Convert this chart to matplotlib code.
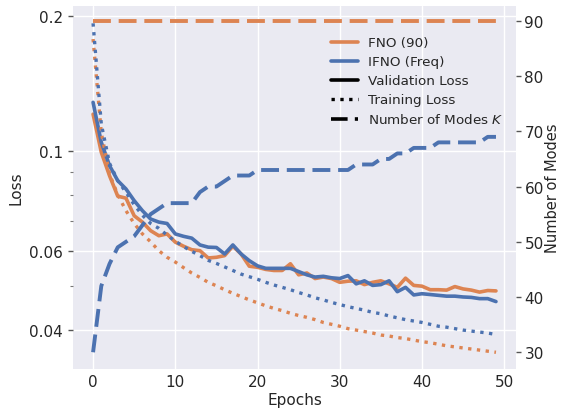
import matplotlib
matplotlib.use("Agg")
import matplotlib.pyplot as plt
from matplotlib.lines import Line2D
from matplotlib.ticker import NullFormatter, FixedLocator, FixedFormatter

epochs = list(range(50))

fno_val = [0.121, 0.0995, 0.0882, 0.0794, 0.0786, 0.0718, 0.0695, 0.0665, 0.0648, 0.0654,
           0.0627, 0.0614, 0.0603, 0.0600, 0.0578, 0.0580, 0.0585, 0.0614, 0.0590, 0.0554,
           0.0551, 0.0545, 0.0542, 0.0542, 0.0561, 0.0530, 0.0535, 0.0520, 0.0524, 0.0520,
           0.0510, 0.0513, 0.0514, 0.0504, 0.0510, 0.0514, 0.0506, 0.0497, 0.0521, 0.0502,
           0.0500, 0.0491, 0.0491, 0.0490, 0.0499, 0.0493, 0.0490, 0.0485, 0.0489, 0.0488]

ifno_val = [0.1286, 0.1047, 0.0929, 0.0860, 0.0824, 0.0776, 0.0737, 0.0706, 0.0695, 0.0690,
            0.0654, 0.0646, 0.0640, 0.0618, 0.0611, 0.0610, 0.0590, 0.0618, 0.0590, 0.0570,
            0.0555, 0.0548, 0.0548, 0.0548, 0.0548, 0.0539, 0.0530, 0.0524, 0.0526, 0.0522,
            0.0520, 0.0528, 0.0506, 0.0514, 0.0502, 0.0504, 0.0514, 0.0486, 0.0497, 0.0478,
            0.0481, 0.0479, 0.0477, 0.0475, 0.0475, 0.0473, 0.0472, 0.0469, 0.0469, 0.0462]

fno_train = [0.178, 0.110, 0.089, 0.080, 0.0737, 0.069, 0.0654, 0.0628, 0.0600, 0.0580,
             0.0566, 0.0550, 0.0535, 0.0523, 0.0510, 0.0501, 0.0491, 0.0482, 0.0474, 0.0466,
             0.0459, 0.0452, 0.0446, 0.0441, 0.0435, 0.0430, 0.0426, 0.0421, 0.0415, 0.0411,
             0.0407, 0.0402, 0.0399, 0.0396, 0.0393, 0.0389, 0.0387, 0.0384, 0.0382, 0.0379,
             0.0376, 0.0374, 0.0371, 0.0368, 0.0366, 0.0364, 0.0362, 0.0360, 0.0358, 0.0356]

ifno_train = [0.193, 0.115, 0.094, 0.086, 0.081, 0.076, 0.072, 0.069, 0.0673, 0.065,
              0.063, 0.0613, 0.0598, 0.0585, 0.0571, 0.0562, 0.0552, 0.0542, 0.0532, 0.0525,
              0.0518, 0.0510, 0.0503, 0.0497, 0.0491, 0.0484, 0.0478, 0.0471, 0.0466, 0.0460,
              0.0455, 0.0450, 0.0446, 0.0442, 0.0437, 0.0434, 0.0429, 0.0425, 0.0421, 0.0418,
              0.0415, 0.0411, 0.0407, 0.0405, 0.0402, 0.0399, 0.0397, 0.0395, 0.0393, 0.0390]

fno_modes = [90] * 50
ifno_modes = [30, 42, 46, 49, 50, 51, 53, 55, 56, 57,
              57, 57, 57, 59, 60, 60, 61, 62, 62, 62,
              63, 63, 63, 63, 63, 63, 63, 63, 63, 63,
              63, 63, 64, 64, 64, 65, 65, 66, 66, 67,
              67, 67, 68, 68, 68, 68, 68, 68, 69, 69]

loss_ticks = [0.04, 0.06, 0.1, 0.2]
loss_tick_labels = ["0.04", "0.06", "0.1", "0.2"]

plt.style.use("seaborn-v0_8-darkgrid")
plt.rcParams["font.family"] = "DejaVu Sans"
plt.rcParams["font.size"] = 11

orange = "#dd8452"
blue = "#4c72b0"
dash = (4.6, 2.0)

fig, ax = plt.subplots(figsize=(5.61, 4.10), dpi=100)
fig.subplots_adjust(left=0.130, right=0.920, top=0.983, bottom=0.098)

ax.plot(epochs, fno_val, color=orange, lw=2.6)
ax.plot(epochs, ifno_val, color=blue, lw=2.6)
ax.plot(epochs, fno_train, color=orange, lw=2.4, ls=":")
ax.plot(epochs, ifno_train, color=blue, lw=2.4, ls=":")
ax.set_yscale("log")
ax.set_ylim(0.0327, 0.211)
ax.yaxis.set_major_locator(FixedLocator(loss_ticks))
ax.yaxis.set_major_formatter(FixedFormatter(loss_tick_labels))
ax.yaxis.set_minor_formatter(NullFormatter())
ax.set_xticks([0, 10, 20, 30, 40, 50])
ax.set_xlabel("Epochs", fontsize=11, labelpad=2)
ax.set_ylabel("Loss", fontsize=11)
ax.tick_params(axis="y", which="major", left=True, length=3.5, width=1, color="#555555", labelsize=11)
ax.tick_params(axis="y", which="minor", left=True, length=2, width=0.8, color="#777777")
ax.tick_params(axis="x", length=0, labelsize=11, pad=4)
ax.grid(True, which="major", color="white", lw=1)
ax.grid(False, which="minor")

ax2 = ax.twinx()
ax2.plot(epochs, fno_modes, color=orange, lw=2.8, ls=(0, dash))
ax2.plot(epochs, ifno_modes, color=blue, lw=2.8, ls=(0, dash))
ax2.grid(False)
ax2.set_ylim(27, 92.7)
ax2.set_yticks([30, 40, 50, 60, 70, 80, 90])
ax2.set_ylabel("Number of Modes", fontsize=10.5, labelpad=0.5)
ax2.tick_params(axis="y", right=True, length=3.5, width=1, color="#555555", labelsize=11, pad=2.5)

handles = [
    Line2D([], [], color=orange, lw=2.6),
    Line2D([], [], color=blue, lw=2.6),
    Line2D([], [], color="black", lw=2.6),
    Line2D([], [], color="black", lw=2.4, ls=":"),
    Line2D([], [], color="black", lw=2.6, ls=(0, dash)),
]
labels = ["FNO (90)", "IFNO (Freq)", "Validation Loss", "Training Loss", "Number of Modes $K$"]
ax2.legend(handles, labels, loc="upper right", bbox_to_anchor=(1.0, 0.95), frameon=False,
           fontsize=9.7, handlelength=2.0, labelspacing=0.45)

fig.savefig("out.png", dpi=100)
